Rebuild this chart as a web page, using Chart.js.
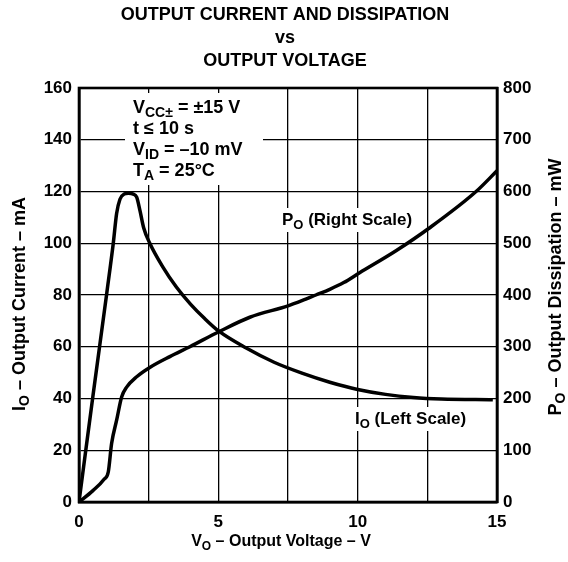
<!DOCTYPE html>
<html>
<head>
<meta charset="utf-8">
<title>Output Current and Dissipation vs Output Voltage</title>
<script src="https://cdn.jsdelivr.net/npm/chart.js@4.4.1/dist/chart.umd.min.js"></script>
<style>
  html, body { margin: 0; padding: 0; background: #fff; }
  #chart { display: block; }
</style>
</head>
<body>
<canvas id="chart" width="568" height="562"></canvas>
<script>
// I_O curve (left scale, mA)
const currentVolts = [0, 0.5, 1.0, 1.23, 1.35, 1.47, 1.62, 1.77, 1.95, 2.07, 2.19, 2.32, 2.54, 3.0, 3.5, 4.0, 4.5, 5.02, 6.0, 7.0, 8.0, 9.0, 10.0, 11.0, 12.0, 13.0, 14.85];
const currentMa = [0, 41, 81, 100, 111.5, 117, 119, 119.3, 119, 117.8, 112.5, 106, 100, 91, 83, 76.5, 71, 66, 59.5, 54, 49.8, 46.3, 43.5, 41.6, 40.4, 39.8, 39.5];

// P_O curve (right scale, mW)
const powerVolts = [0, 0.5, 0.9, 1.05, 1.17, 1.35, 1.53, 1.71, 2.07, 2.54, 3.26, 3.98, 5.02, 6.13, 7.5, 8.0, 8.5, 9.0, 9.5, 10.07, 11.39, 12.56, 14.25, 15.0];
const powerMw = [0, 22, 44, 58, 113, 158, 203, 222, 242, 260, 281, 300, 329, 357, 379, 389, 400, 411, 424, 443, 486, 529, 600, 640];

// axes
const xTickLabels = [0, 5, 10, 15];
const titleLines = ["OUTPUT CURRENT AND DISSIPATION", "vs", "OUTPUT VOLTAGE"];
const conditionLines = [
  [["V", false], ["CC±", true], [" = ±15 V", false]],
  [["t ≤ 10 s", false]],
  [["V", false], ["ID", true], [" = –10 mV", false]],
  [["T", false], ["A", true], [" = 25°C", false]]
];

const FONT = '"Liberation Sans", Arial, Helvetica, sans-serif';

function fontFor(size, sub) {
  return "bold " + (sub ? Math.round(size * 0.78) : size) + "px " + FONT;
}

// draws text with subscript pieces, returns its width
function drawRich(ctx, parts, x, y, size, align) {
  const widths = parts.map(([t, sub]) => {
    ctx.font = fontFor(size, sub);
    return ctx.measureText(t).width;
  });
  const total = widths.reduce((a, b) => a + b, 0);
  let cx = align === "center" ? x - total / 2 : x;
  ctx.textAlign = "left";
  ctx.textBaseline = "alphabetic";
  parts.forEach(([t, sub], i) => {
    ctx.font = fontFor(size, sub);
    ctx.fillText(t, cx, sub ? y + size * 0.24 : y);
    cx += widths[i];
  });
  return total;
}

function measureRich(ctx, parts, size) {
  return parts.reduce((w, [t, sub]) => {
    ctx.font = fontFor(size, sub);
    return w + ctx.measureText(t).width;
  }, 0);
}

const textPlugin = {
  id: "texts",
  beforeDatasetsDraw(chart) {
    const ctx = chart.ctx;
    ctx.save();
    ctx.fillStyle = "#fff";
    // clear grid behind the conditions block
    ctx.fillRect(125, 93, 138, 92);

    const pLabel = [["P", false], ["O", true], [" (Right Scale)", false]];
    const iLabel = [["I", false], ["O", true], [" (Left Scale)", false]];
    const pw = measureRich(ctx, pLabel, 17);
    const iw = measureRich(ctx, iLabel, 17);
    ctx.fillStyle = "#fff";
    ctx.fillRect(278, 208, pw + 8, 24);
    ctx.fillRect(351, 407, iw + 8, 24);

    ctx.fillStyle = "#000";
    conditionLines.forEach((line, i) => {
      drawRich(ctx, line, 133, 113 + i * 21, 18, "left");
    });
    drawRich(ctx, pLabel, 282, 225, 17, "left");
    drawRich(ctx, iLabel, 355, 424, 17, "left");
    ctx.restore();
  },
  afterDraw(chart) {
    const ctx = chart.ctx;
    const a = chart.chartArea;
    ctx.save();
    ctx.strokeStyle = "#000";
    ctx.lineWidth = 2.6;
    ctx.strokeRect(a.left, a.top, a.right - a.left, a.bottom - a.top);

    ctx.fillStyle = "#000";
    ctx.textAlign = "center";
    ctx.textBaseline = "alphabetic";
    ctx.font = "bold 18px " + FONT;
    titleLines.forEach((t, i) => ctx.fillText(t, 285, 20 + i * 23));

    drawRich(ctx, [["V", false], ["O", true], [" – Output Voltage – V", false]], 281, 546, 16, "center");

    ctx.save();
    ctx.translate(25, 304);
    ctx.rotate(-Math.PI / 2);
    drawRich(ctx, [["I", false], ["O", true], [" – Output Current – mA", false]], 0, 0, 18, "center");
    ctx.restore();

    ctx.save();
    ctx.translate(561, 287);
    ctx.rotate(-Math.PI / 2);
    drawRich(ctx, [["P", false], ["O", true], [" – Output Dissipation – mW", false]], 0, 0, 18, "center");
    ctx.restore();
    ctx.restore();
  }
};

const tickFont = { family: FONT, size: 17, weight: "bold" };

new Chart(document.getElementById("chart"), {
  type: "line",
  data: {
    datasets: [
      {
        label: "IO",
        data: currentVolts.map((v, i) => ({ x: v, y: currentMa[i] })),
        yAxisID: "y",
        borderColor: "#000",
        borderWidth: 3.5,
        pointRadius: 0,
        cubicInterpolationMode: "monotone",
        fill: false
      },
      {
        label: "PO",
        data: powerVolts.map((v, i) => ({ x: v, y: powerMw[i] })),
        yAxisID: "y1",
        borderColor: "#000",
        borderWidth: 3.5,
        pointRadius: 0,
        cubicInterpolationMode: "monotone",
        fill: false
      }
    ]
  },
  options: {
    responsive: false,
    animation: false,
    events: [],
    layout: { padding: { top: 88, left: 0, right: 0, bottom: 0 } },
    plugins: {
      legend: { display: false },
      tooltip: { enabled: false },
      title: { display: false }
    },
    scales: {
      x: {
        type: "linear",
        min: 0,
        max: 15,
        ticks: {
          stepSize: 2.5,
          autoSkip: false,
          maxRotation: 0,
          color: "#000",
          font: tickFont,
          padding: 10,
          callback: (v) => (xTickLabels.includes(v) ? String(v) : "")
        },
        grid: { color: "#000", lineWidth: 1.3, drawTicks: false },
        border: { color: "#000", width: 2.6 },
        afterFit: (s) => { s.height = 60; }
      },
      y: {
        position: "left",
        min: 0,
        max: 160,
        ticks: { stepSize: 20, color: "#000", font: tickFont, padding: 7 },
        grid: { color: "#000", lineWidth: 1.3, drawTicks: false },
        border: { color: "#000", width: 2.6 },
        afterFit: (s) => { s.width = 79; }
      },
      y1: {
        position: "right",
        min: 0,
        max: 800,
        ticks: { stepSize: 100, color: "#000", font: tickFont, padding: 6 },
        grid: { display: false, drawTicks: false },
        border: { color: "#000", width: 2.6 },
        afterFit: (s) => { s.width = 71; }
      }
    }
  },
  plugins: [textPlugin]
});
</script>
</body>
</html>
